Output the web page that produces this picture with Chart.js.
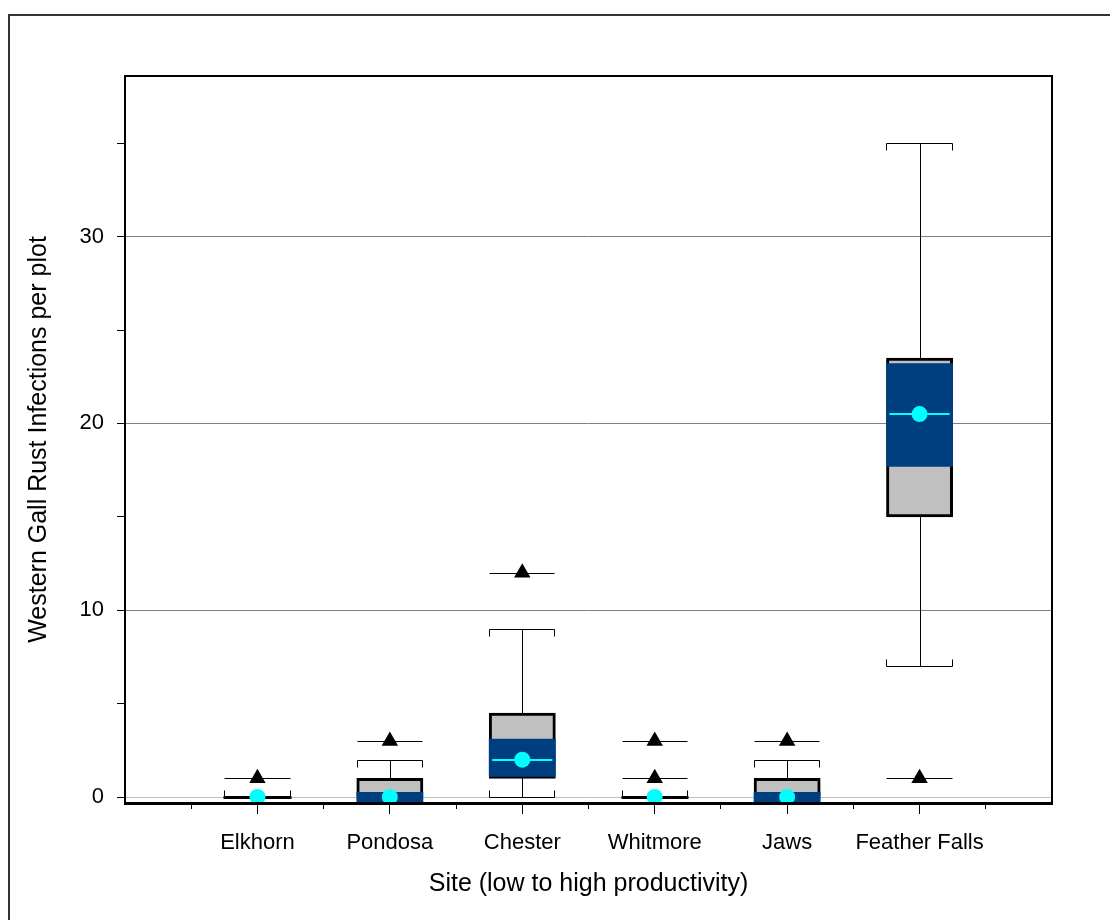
<!DOCTYPE html>
<html>
<head>
<meta charset="utf-8">
<script src="https://cdn.jsdelivr.net/npm/chart.js@4.4.0/dist/chart.umd.min.js"></script>
<style>
  html, body { margin: 0; padding: 0; background: #fff; overflow: hidden; }
  #wrap { position: relative; width: 1110px; height: 920px; }
  #frame { position: absolute; left: 8px; top: 14px; width: 1200px; height: 1000px;
           border-left: 2px solid #333; border-top: 2px solid #333; pointer-events: none; }
  canvas { position: absolute; left: 0; top: 0; }
</style>
</head>
<body>
<div id="wrap">
  <canvas id="chart" width="1110" height="920"></canvas>
  <div id="frame"></div>
</div>
<script>
// sites, low to high productivity (x positions 1..6)
const sites = ['Elkhorn', 'Pondosa', 'Chester', 'Whitmore', 'Jaws', 'Feather Falls'];
const sitePos = [1, 2, 3, 4, 5, 6];

// box (25th - 75th percentile)
const boxLow  = [0, 0, 1,   0, 0, 15];
const boxHigh = [0, 1, 4.5, 0, 1, 23.5];
// dark band inside the box
const bandLow  = [null, -0.5, 1.1, null, -0.5, 17.7];
const bandHigh = [null, 0.25, 3.1, null, 0.25, 23.2];
// whisker ends
const whiskLow  = [0, 0, 0, 0, 0, 7];
const whiskHigh = [0, 2, 9, 0, 2, 35];
// mean per site
const means = [0, 0, 2, 0, 0, 20.5];
// outlying points per site
const outliers = [[1], [3], [12], [1, 3], [3], [1]];

// tick values
const yTicks = [0, 5, 10, 15, 20, 25, 30, 35];
const xTicks = [0.5, 1, 1.5, 2, 2.5, 3, 3.5, 4, 4.5, 5, 5.5, 6, 6.5];

const BOX_W = 0.5; // box width in x units

Chart.defaults.font.family = "'Liberation Sans', Arial, sans-serif";
Chart.defaults.color = '#000';

const boxData = [];
const bandData = [];
sitePos.forEach((x, i) => {
  if (boxLow[i] !== boxHigh[i]) boxData.push({ x: x, y: [boxLow[i], boxHigh[i]] });
  if (bandLow[i] !== null) bandData.push({ x: x, y: [bandLow[i], bandHigh[i]] });
});
const meanData = sitePos.map((x, i) => ({ x: x, y: means[i] }));
const outlierData = outliers.flatMap((vals, i) => vals.map(v => ({ x: sitePos[i], y: v })));

// whiskers, caps, outlier lines, collapsed boxes, mean lines, frame
const boxExtras = {
  id: 'boxExtras',
  beforeDatasetsDraw(chart) {
    const { ctx, scales: { x, y } } = chart;
    const cap = 7;
    ctx.save();
    ctx.strokeStyle = '#000';
    ctx.lineWidth = 1;
    sitePos.forEach((pos, i) => {
      const xc = Math.round(x.getPixelForValue(pos)) + 0.5;
      const xl = Math.round(x.getPixelForValue(pos - BOX_W / 2)) + 0.5;
      const xr = Math.round(x.getPixelForValue(pos + BOX_W / 2)) - 0.5;
      const yLo = Math.round(y.getPixelForValue(whiskLow[i])) + 0.5;
      const yHi = Math.round(y.getPixelForValue(whiskHigh[i])) + 0.5;
      ctx.beginPath();
      ctx.moveTo(xc, yLo); ctx.lineTo(xc, yHi);
      // lower cap, ticks pointing up
      ctx.moveTo(xl, yLo - cap); ctx.lineTo(xl, yLo); ctx.lineTo(xr, yLo); ctx.lineTo(xr, yLo - cap);
      // upper cap, ticks pointing down
      if (whiskHigh[i] > boxHigh[i]) {
        ctx.moveTo(xl, yHi + cap); ctx.lineTo(xl, yHi); ctx.lineTo(xr, yHi); ctx.lineTo(xr, yHi + cap);
      }
      outliers[i].forEach(v => {
        const yo = Math.round(y.getPixelForValue(v)) + 0.5;
        ctx.moveTo(xl, yo); ctx.lineTo(xr, yo);
      });
      ctx.stroke();
      if (boxLow[i] === boxHigh[i]) {
        ctx.save();
        ctx.lineWidth = 3;
        ctx.beginPath();
        const yb = Math.round(y.getPixelForValue(boxLow[i])) + 0.5;
        ctx.moveTo(xl - 1, yb); ctx.lineTo(xr + 1, yb);
        ctx.stroke();
        ctx.restore();
      }
    });
    ctx.restore();
  },
  afterDatasetsDraw(chart) {
    const { ctx, scales: { x, y } } = chart;
    ctx.save();
    ctx.strokeStyle = '#00ffff';
    ctx.lineWidth = 2;
    sitePos.forEach((pos, i) => {
      if (means[i] > boxLow[i] && means[i] < boxHigh[i]) {
        const xl = x.getPixelForValue(pos - BOX_W / 2) + 3;
        const xr = x.getPixelForValue(pos + BOX_W / 2) - 3;
        const ym = Math.round(y.getPixelForValue(means[i]));
        ctx.beginPath();
        ctx.moveTo(xl, ym); ctx.lineTo(xr, ym);
        ctx.stroke();
      }
    });
    ctx.restore();
  },
  afterDraw(chart) {
    const { ctx, chartArea: a } = chart;
    ctx.save();
    ctx.strokeStyle = '#000';
    ctx.lineWidth = 2;
    ctx.strokeRect(a.left, a.top, a.right - a.left, a.bottom - a.top);
    // heavier bottom axis line
    ctx.lineWidth = 3;
    ctx.beginPath();
    ctx.moveTo(a.left - 1, a.bottom + 0.5); ctx.lineTo(a.right + 1, a.bottom + 0.5);
    ctx.stroke();
    ctx.restore();
  }
};

new Chart(document.getElementById('chart'), {
  type: 'scatter',
  data: {
    datasets: [
      { type: 'scatter', data: meanData, pointStyle: 'circle', pointRadius: 8, backgroundColor: '#00ffff', borderWidth: 0, order: 0, clip: false },
      { type: 'scatter', data: outlierData, pointStyle: 'triangle', pointRadius: 9.5, backgroundColor: '#000', borderColor: '#000', borderWidth: 0, order: 1, clip: false },
      { type: 'bar', data: bandData, backgroundColor: '#003f7f', borderWidth: 0, grouped: false, categoryPercentage: 1, barPercentage: 1, order: 2, clip: 0 },
      { type: 'bar', data: boxData, backgroundColor: '#c0c0c0', borderColor: '#000', borderWidth: 3, borderSkipped: false, grouped: false, categoryPercentage: 1, barPercentage: 1, order: 3, clip: 0 }
    ]
  },
  options: {
    responsive: false,
    animation: false,
    layout: { padding: { left: 0, top: 76, right: 58, bottom: 0 } },
    plugins: { legend: { display: false }, tooltip: { enabled: false } },
    scales: {
      x: {
        type: 'linear', min: 0, max: 7, offset: false,
        afterBuildTicks: axis => { axis.ticks = xTicks.map(v => ({ value: v })); },
        afterFit: scale => { scale.height = 117; },
        grid: {
          offset: false, drawOnChartArea: false, tickLength: 11, tickColor: '#000', tickWidth: 1,
          tickBorderDash: ctx => Number.isInteger(ctx.tick.value) ? [] : [6, 40]
        },
        border: { display: false },
        ticks: {
          autoSkip: false, maxRotation: 0, padding: 16, color: '#000', font: { size: 22 },
          callback: v => (Number.isInteger(v) && sitePos.indexOf(v) >= 0) ? sites[sitePos.indexOf(v)] : ''
        },
        title: { display: true, text: 'Site (low to high productivity)', color: '#000', font: { size: 25 }, padding: { top: 0, bottom: 21 } }
      },
      y: {
        type: 'linear', min: -0.32, max: 38.6,
        afterBuildTicks: axis => { axis.ticks = yTicks.map(v => ({ value: v })); },
        afterFit: scale => { scale.width = 125; },
        grid: {
          color: ctx => ctx.tick.value === 0 ? '#c0c0c0' : (ctx.tick.value % 10 === 0 ? '#808080' : 'rgba(0,0,0,0)'),
          tickColor: '#000', tickLength: 8, lineWidth: 1
        },
        border: { display: false },
        ticks: { padding: 13, color: '#000', font: { size: 22 }, callback: v => v % 10 === 0 ? String(v) : '' },
        title: { display: true, text: 'Western Gall Rust Infections per plot', color: '#000', font: { size: 25 }, padding: { top: 24, bottom: 0 } }
      }
    }
  },
  plugins: [boxExtras]
});
</script>
</body>
</html>
